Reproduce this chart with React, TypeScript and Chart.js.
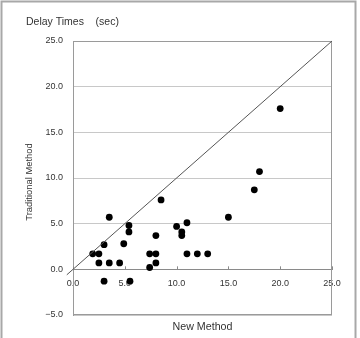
import React, { useEffect, useRef } from 'react';
import { Chart, registerables } from 'chart.js';

Chart.register(...registerables);

// New Method (x) and Traditional Method (y) delay times, in seconds
const newMethod = [1.9, 2.5, 2.5, 3.0, 3.0, 3.5, 3.5, 4.5, 4.9, 5.4, 5.4, 5.5, 7.4, 7.4, 8.0, 8.0, 8.0, 8.5, 10.0, 10.5, 10.5, 11.0, 11.0, 12.0, 13.0, 15.0, 17.5, 18.0, 20.0];
const traditional = [1.7, 1.7, 0.7, 2.7, -1.3, 0.7, 5.7, 0.7, 2.8, 4.8, 4.1, -1.3, 1.7, 0.2, 1.7, 3.7, 0.7, 7.6, 4.7, 4.1, 3.7, 5.1, 1.7, 1.7, 1.7, 5.7, 8.7, 10.7, 17.6];
// y = x reference line ends
const refLine = [-0.6, 25];
const xTicks = [0, 5, 10, 15, 20, 25];
const yTicks = [-5, 0, 5, 10, 15, 20, 25];
const titleText = 'Delay Times    (sec)';
const xTitle = 'New Method';
const yTitle = 'Traditional Method';

const FONT = '"Liberation Sans", Arial, sans-serif';
const fmt = (v: number) => (v < 0 ? '\u2212' + Math.abs(v).toFixed(1) : v.toFixed(1));

const decor = {
  id: 'decor',
  beforeDatasetsDraw(chart: any) {
    const { ctx, chartArea: a, scales } = chart;
    ctx.save();
    // plot box
    ctx.strokeStyle = '#9a9a9a';
    ctx.lineWidth = 1;
    ctx.strokeRect(a.left + 0.5, a.top + 0.5, a.right - a.left - 1, a.bottom - a.top - 1);
    // small tick marks on the zero line
    const y0 = scales.y.getPixelForValue(0);
    ctx.strokeStyle = '#8a8a8a';
    ctx.beginPath();
    xTicks.forEach((v) => {
      const px = Math.round(scales.x.getPixelForValue(v)) + 0.5;
      ctx.moveTo(px, y0 - 3);
      ctx.lineTo(px, y0);
    });
    ctx.stroke();
    ctx.restore();
  },
  afterDraw(chart: any) {
    const { ctx, chartArea: a } = chart;
    ctx.save();
    // outer frame
    ctx.strokeStyle = '#a8a8a8';
    ctx.lineWidth = 2;
    ctx.strokeRect(1.5, 1.5, 354, 400);
    ctx.fillStyle = '#333';
    ctx.textBaseline = 'middle';
    ctx.font = '10.5px ' + FONT;
    ctx.textAlign = 'left';
    ctx.fillText(titleText, 26, 22);
    ctx.font = '10.7px ' + FONT;
    ctx.textAlign = 'center';
    ctx.fillText(xTitle, (a.left + a.right) / 2, 327);
    ctx.translate(29.5, 182);
    ctx.rotate(-Math.PI / 2);
    ctx.font = '9.4px ' + FONT;
    ctx.fillText(yTitle, 0, 0);
    ctx.restore();
  },
};

export default function App() {
  const ref = useRef<HTMLCanvasElement>(null);
  useEffect(() => {
    if (!ref.current) return;
    const points = newMethod.map((x, i) => ({ x, y: traditional[i] }));
    const line = refLine.map((v) => ({ x: v, y: v }));
    const chart = new Chart(ref.current, {
      type: 'scatter',
      data: {
        datasets: [
          {
            type: 'line',
            data: line,
            borderColor: '#555',
            borderWidth: 1,
            pointRadius: 0,
            fill: false,
            clip: false,
          } as any,
          {
            data: points,
            backgroundColor: '#000',
            borderColor: '#000',
            borderWidth: 0,
            pointRadius: 3.4,
          },
        ],
      },
      options: {
        responsive: false,
        animation: false,
        devicePixelRatio: 1,
        layout: { padding: { left: 0, top: 41, right: 28, bottom: 23 } },
        plugins: { legend: { display: false }, tooltip: { enabled: false }, title: { display: false } },
        scales: {
          x: {
            type: 'linear',
            position: { y: 0 } as any,
            min: 0,
            max: 25,
            afterBuildTicks: (s: any) => { s.ticks = xTicks.map((v) => ({ value: v })); },
            ticks: {
              callback: (v: any) => fmt(Number(v)),
              font: { family: FONT, size: 9 },
              color: '#333',
              padding: 1,
              maxRotation: 0,
              autoSkip: false,
            },
            grid: { display: false },
            border: { display: true, color: '#8a8a8a' },
          },
          y: {
            type: 'linear',
            position: 'left',
            min: -5,
            max: 25,
            afterBuildTicks: (s: any) => { s.ticks = yTicks.map((v) => ({ value: v })); },
            afterFit: (s: any) => { s.width = 73; },
            ticks: {
              callback: (v: any) => fmt(Number(v)),
              font: { family: FONT, size: 9 },
              color: '#333',
              padding: 10,
              autoSkip: false,
            },
            grid: {
              drawTicks: false,
              tickLength: 0,
              color: (c: any) => (c.tick && c.tick.value === 0 ? '#8a8a8a' : '#c8c8c8'),
            },
            border: { display: true, color: '#9a9a9a' },
          },
        },
      },
      plugins: [decor],
    });
    return () => chart.destroy();
  }, []);
  return (
    <div style={{ position: 'absolute', left: 0, top: 0, width: 360, height: 338, background: '#fff' }}>
      <canvas ref={ref} width={360} height={338} />
    </div>
  );
}
